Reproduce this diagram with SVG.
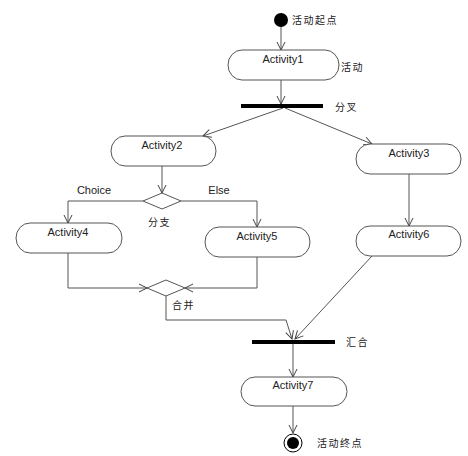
<svg xmlns="http://www.w3.org/2000/svg" width="468" height="456" viewBox="0 0 468 456">
<style>
.act{fill:#fff;stroke:#555;stroke-width:1}
.t{font-family:"Liberation Sans",Arial,sans-serif;font-size:11px;fill:#222;text-anchor:middle}
.lbl{font-family:"Noto Sans CJK SC","Liberation Sans",sans-serif;font-size:10px;letter-spacing:1.5px;fill:#222}
.e{fill:none;stroke:#555;stroke-width:1}
.bar{fill:#000}
</style>
<defs>
<marker id="ah" markerWidth="10" markerHeight="10" refX="9" refY="5" orient="auto" markerUnits="userSpaceOnUse">
<polyline points="1,1 9,5 1,9" fill="none" stroke="#444" stroke-width="1"/>
</marker>
</defs>
<rect width="468" height="456" fill="#fff"/>
<g id="connectors">
<line class="e" x1="281" y1="27" x2="281" y2="50" marker-end="url(#ah)"/>
<line class="e" x1="281" y1="80" x2="281" y2="104" marker-end="url(#ah)"/>
<line class="e" x1="283" y1="108" x2="203" y2="136" marker-end="url(#ah)"/>
<line class="e" x1="285" y1="108" x2="372" y2="144" marker-end="url(#ah)"/>
<line class="e" x1="162" y1="166" x2="162" y2="193" marker-end="url(#ah)"/>
<polyline class="e" points="143,201 68,201 68,223" marker-end="url(#ah)"/>
<polyline class="e" points="181,201 257,201 257,227" marker-end="url(#ah)"/>
<line class="e" x1="409" y1="174" x2="409" y2="226" marker-end="url(#ah)"/>
<polyline class="e" points="68,253 68,288 147,288" marker-end="url(#ah)"/>
<polyline class="e" points="257,257 257,288 185,288" marker-end="url(#ah)"/>
<polyline class="e" points="166,296 166,320 286,320 292,339" marker-end="url(#ah)"/>
<line class="e" x1="372" y1="256" x2="295" y2="339" marker-end="url(#ah)"/>
<line class="e" x1="293" y1="344" x2="293" y2="377" marker-end="url(#ah)"/>
<line class="e" x1="293" y1="406" x2="293" y2="433" marker-end="url(#ah)"/>
</g>
<g id="start">
<circle cx="281" cy="20" r="7" fill="#000"/>
<text class="lbl" x="292" y="24">活动起点</text>
</g>
<g id="activity1">
<rect class="act" x="228" y="50" width="111" height="30" rx="14" ry="15"/>
<text class="t" x="283" y="63">Activity1</text>
<text class="lbl" x="341" y="71">活动</text>
</g>
<g id="fork">
<rect class="bar" x="241" y="104" width="82" height="4"/>
<text class="lbl" x="335" y="111">分叉</text>
</g>
<g id="activity2">
<rect class="act" x="111" y="136" width="105" height="30" rx="14" ry="15"/>
<text class="t" x="162" y="149">Activity2</text>
</g>
<g id="activity3">
<rect class="act" x="356" y="144" width="105" height="30" rx="14" ry="15"/>
<text class="t" x="409" y="157">Activity3</text>
</g>
<g id="branch">
<polygon class="act" points="143,201 162,193 181,201 162,209"/>
<text class="lbl" x="148" y="226">分支</text>
<text class="t" x="94" y="194">Choice</text>
<text class="t" x="219" y="194">Else</text>
</g>
<g id="activity4">
<rect class="act" x="16" y="223" width="106" height="30" rx="14" ry="15"/>
<text class="t" x="68" y="236">Activity4</text>
</g>
<g id="activity5">
<rect class="act" x="205" y="227" width="105" height="30" rx="14" ry="15"/>
<text class="t" x="257" y="240">Activity5</text>
</g>
<g id="activity6">
<rect class="act" x="356" y="226" width="105" height="30" rx="14" ry="15"/>
<text class="t" x="409" y="238">Activity6</text>
</g>
<g id="merge">
<polygon class="act" points="147,288 166,280 185,288 166,296"/>
<text class="lbl" x="172" y="309">合并</text>
</g>
<g id="join">
<rect class="bar" x="252" y="340" width="83" height="4"/>
<text class="lbl" x="346" y="346">汇合</text>
</g>
<g id="activity7">
<rect class="act" x="241" y="377" width="106" height="29" rx="14" ry="14.5"/>
<text class="t" x="293" y="389">Activity7</text>
</g>
<g id="end">
<circle cx="293" cy="443" r="9" fill="#fff" stroke="#000" stroke-width="1"/>
<circle cx="293" cy="443" r="6" fill="#000"/>
<text class="lbl" x="317" y="447">活动终点</text>
</g>
</svg>
